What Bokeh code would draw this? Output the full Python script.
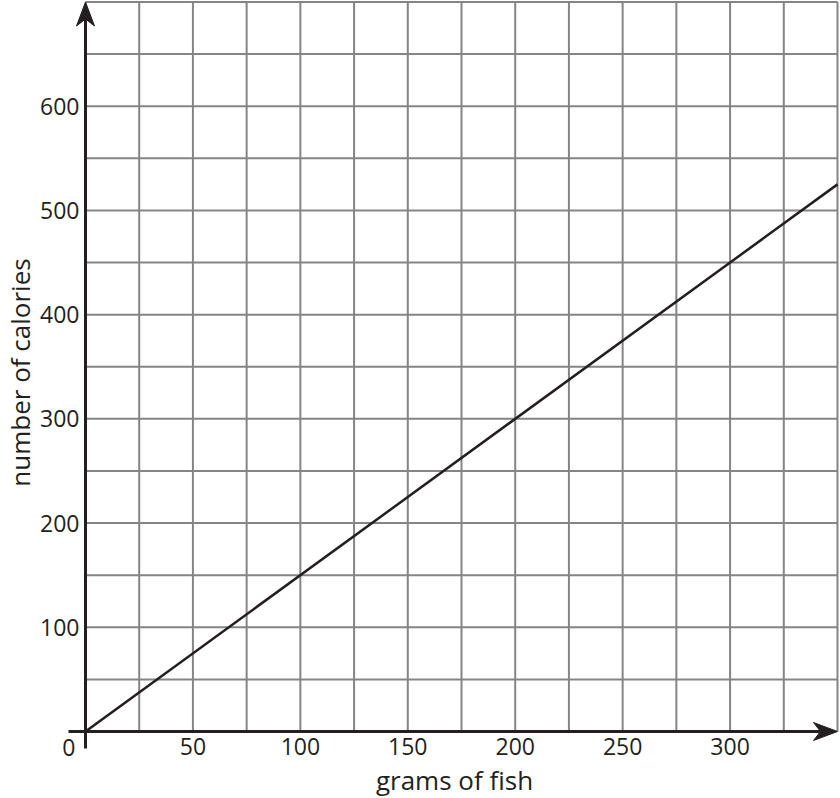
import math
from bokeh.plotting import figure
from bokeh.models import Range1d
from bokeh.core.properties import value
from bokeh.embed import file_html
from bokeh.resources import INLINE

# ---- data ----
grams = [0, 350]
calories = [0, 525]

x_tick_values = [50, 100, 150, 200, 250, 300]
x_tick_labels = ["50", "100", "150", "200", "250", "300"]
y_tick_values = [100, 200, 300, 400, 500, 600]
y_tick_labels = ["100", "200", "300", "400", "500", "600"]
x_grid_values = [25, 50, 75, 100, 125, 150, 175, 200, 225, 250, 275, 300, 325, 350]
y_grid_values = [50, 100, 150, 200, 250, 300, 350, 400, 450, 500, 550, 600, 650, 700]

x_title = "grams of fish"
y_title = "number of calories"

x_max = 350
y_max = 700

# ---- layout (canvas pixels) ----
W, H = 840, 798
ORIGIN_X, ORIGIN_Y = 85, 731      # canvas pixel of data origin
RIGHT_X, TOP_Y = 837, 1.5         # canvas pixels of x_max / y_max
sx = (RIGHT_X - ORIGIN_X) / x_max
sy = (ORIGIN_Y - TOP_Y) / y_max

def dx(px):
    return px / sx

def dy(px):
    return px / sy

INK = "#231f20"
GRID = "#858585"
FONT = "Open Sans"

p = figure(width=W, height=H, output_backend="svg", toolbar_location=None,
           x_range=Range1d(-dx(ORIGIN_X), dx(W - ORIGIN_X)),
           y_range=Range1d(-dy(H - ORIGIN_Y), dy(ORIGIN_Y)),
           x_axis_location=None, y_axis_location=None,
           min_border=0)
p.grid.visible = False
p.outline_line_color = None
p.background_fill_color = "white"
p.border_fill_color = "white"

# grid
p.segment(x0=x_grid_values, y0=[0] * len(x_grid_values),
          x1=x_grid_values, y1=[y_max] * len(x_grid_values),
          line_color=GRID, line_width=2)
p.segment(x0=[0] * len(y_grid_values), y0=y_grid_values,
          x1=[x_max] * len(y_grid_values), y1=y_grid_values,
          line_color=GRID, line_width=2)

# relationship line
p.line(grams, calories, line_color=INK, line_width=2.5)

# axes with stealth arrowheads
L, HW, NOTCH = 24, 9, 17
p.segment(x0=[-dx(17), 0], y0=[0, -dy(17)],
          x1=[x_max - dx(NOTCH), 0], y1=[0, y_max - dy(NOTCH)],
          line_color=INK, line_width=3)
p.patches(
    xs=[[x_max, x_max - dx(L), x_max - dx(NOTCH), x_max - dx(L)],
        [0, -dx(HW), 0, dx(HW)]],
    ys=[[0, dy(HW), 0, -dy(HW)],
        [y_max, y_max - dy(L), y_max - dy(NOTCH), y_max - dy(L)]],
    fill_color=INK, line_color=INK, line_width=1)

# tick labels
p.text(x=x_tick_values, y=[-dy(14.5)] * len(x_tick_values), text=x_tick_labels,
       text_font=value(FONT), text_font_size="23px", text_color=INK,
       text_align="center", text_baseline="middle")
p.text(x=[-dx(6)] * len(y_tick_values), y=y_tick_values,
       text=y_tick_labels,
       text_font=value(FONT), text_font_size="23px", text_color=INK,
       text_align="right", text_baseline="middle")
p.text(x=[-dx(10)], y=[-dy(16)], text=["0"],
       text_font=value(FONT), text_font_size="23px", text_color=INK,
       text_align="right", text_baseline="middle")

# axis titles
p.text(x=[dx(454 - ORIGIN_X)], y=[-dy(779 - ORIGIN_Y)], text=[x_title],
       text_font=value(FONT), text_font_size="26px", text_color=INK,
       text_align="center", text_baseline="middle")
p.text(x=[-dx(ORIGIN_X - 19)], y=[dy(ORIGIN_Y - 372)], text=[y_title], angle=math.pi / 2,
       text_font=value(FONT), text_font_size="26px", text_color=INK,
       text_align="center", text_baseline="middle")

open("out.html", "w").write(file_html(p, INLINE))
